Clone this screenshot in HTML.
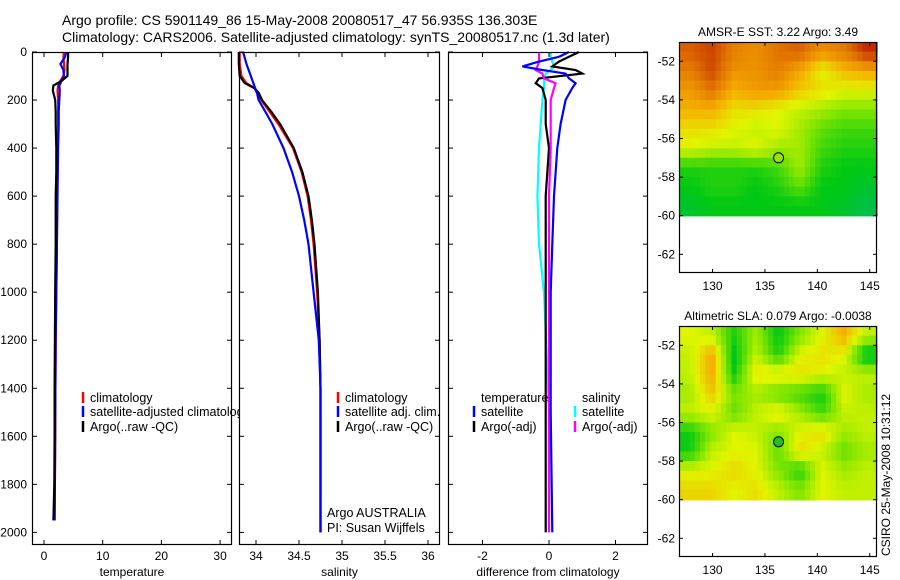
<!DOCTYPE html>
<html><head><meta charset="utf-8">
<style>
html,body{margin:0;padding:0;background:#fff;}
svg{display:block;font-family:"Liberation Sans",sans-serif;}
</style></head>
<body>
<svg id="fig" width="900" height="580" viewBox="0 0 900 580">
<text x="62" y="25" font-size="14">Argo profile: CS 5901149_86 15-May-2008 20080517_47 56.935S 136.303E</text>
<text x="62" y="42" font-size="14">Climatology: CARS2006. Satellite-adjusted climatology: synTS_20080517.nc (1.3d later)</text>
<g id="g1"></g>
<g id="g2"></g>
<g id="g3"></g>
<g id="m1"></g>
<g id="m2"></g>
<text transform="translate(890,556) rotate(-90)" font-size="12">CSIRO 25-May-2008 10:31:12</text>
</svg>
<script>
// ---- data ----
const tDepth=[0,20,50,75,100,120,140,160,200,250,300,400,500,600,800,1000,1200,1400,1600,1800,1950];
const tempClim=[3.4,3.3,3.4,3.5,3.3,2.8,2.4,2.3,2.4,2.4,2.4,2.35,2.3,2.25,2.2,2.1,2.0,1.95,1.9,1.85,1.8];
const tempSat=[3.8,3.6,2.8,3.3,3.4,3.0,2.6,2.7,2.6,2.5,2.5,2.4,2.35,2.3,2.2,2.1,2.0,1.95,1.9,1.85,1.8];
const tempArgo=[4.1,4.1,4.0,4.0,4.0,3.0,1.6,1.5,1.9,2.0,2.0,2.1,2.1,2.0,2.0,1.9,1.85,1.8,1.8,1.75,1.6];
const sDepth=[0,50,100,130,150,170,200,250,300,400,500,600,700,800,1000,1200,1400,1600,2000];
const salClim=[33.81,33.81,33.83,33.89,33.98,34.01,34.06,34.16,34.26,34.43,34.53,34.6,34.64,34.67,34.71,34.74,34.75,34.75,34.75];
const salSat=[33.85,33.89,33.94,33.97,33.99,34.01,34.03,34.11,34.19,34.32,34.42,34.5,34.56,34.61,34.67,34.73,34.75,34.75,34.75];
const salArgo=[33.8,33.8,33.81,33.87,33.98,34.03,34.07,34.18,34.28,34.44,34.54,34.61,34.65,34.68,34.72,34.74,34.75,34.75,34.75];
const dDepth=[0,20,40,60,75,90,110,130,150,200,300,400,600,800,1000,1500,2000];
const tDiffSat=[0.6,0.3,-0.3,-0.8,-0.2,0.5,0.6,0.8,0.7,0.5,0.35,0.25,0.15,0.1,0.05,0.05,0.1];
const tDiffArgo=[0.9,0.6,0.3,0.1,0.8,1.0,-0.3,-0.4,-0.2,-0.1,-0.1,0,-0.1,-0.1,-0.1,-0.1,-0.1];
const sDiffSat=[0.05,0.05,0.1,0.15,0.05,-0.1,-0.15,-0.15,-0.15,-0.2,-0.25,-0.3,-0.35,-0.3,-0.15,0,0];
const sDiffArgo=[-0.3,-0.3,-0.3,-0.35,-0.4,-0.2,-0.15,0.2,0.15,0.05,0.05,0.05,0,0,0,0,0];
const depthTicks=[0,200,400,600,800,1000,1200,1400,1600,1800,2000];
const tempTicks=[0,10,20,30];
const salTicks=[34,34.5,35,35.5,36];
const diffTicks=[-2,0,2];
const latTicks=[-52,-54,-56,-58,-60,-62];
const lonTicks=[130,135,140,145];
const sstGrid=[
[0.88,0.93,0.82,0.78,0.85,0.88,0.78,0.83,0.97],
[0.82,0.92,0.77,0.77,0.82,0.72,0.55,0.67,0.72],
[0.75,0.85,0.7,0.75,0.75,0.65,0.6,0.55,0.55],
[0.7,0.7,0.6,0.6,0.55,0.5,0.45,0.4,0.4],
[0.6,0.6,0.55,0.5,0.55,0.45,0.35,0.3,0.3],
[0.55,0.5,0.5,0.55,0.45,0.45,0.3,0.25,0.25],
[0.25,0.25,0.25,0.25,0.3,0.45,0.25,0.2,0.2],
[0.2,0.25,0.25,0.2,0.25,0.35,0.2,0.2,0.15],
[0.15,0.2,0.2,0.2,0.2,0.2,0.2,0.15,0.1]];
const slaGrid=[
[0.55,0.5,0.25,0.45,0.2,0.4,0.55,0.7,0.5],
[0.5,0.72,0.18,0.5,0.25,0.55,0.6,0.55,0.15],
[0.5,0.72,0.22,0.6,0.6,0.6,0.55,0.5,0.5],
[0.45,0.65,0.4,0.45,0.35,0.3,0.22,0.55,0.45],
[0.5,0.55,0.35,0.5,0.6,0.45,0.3,0.5,0.5],
[0.22,0.4,0.55,0.5,0.4,0.55,0.62,0.45,0.5],
[0.22,0.5,0.55,0.55,0.35,0.62,0.5,0.35,0.45],
[0.55,0.55,0.62,0.55,0.4,0.25,0.55,0.45,0.5],
[0.62,0.62,0.55,0.6,0.5,0.4,0.55,0.5,0.5]];
const floatLon=136.3, floatLat=-57.0;

const NS="http://www.w3.org/2000/svg";
function mk(parent,tag,attrs){const e=document.createElementNS(NS,tag);for(const k in attrs)e.setAttribute(k,attrs[k]);parent.appendChild(e);return e;}
const topY=52,botY=545;
function yD(d){return 52+d*0.2402;}

function panel(g,x0,x1,xs,ticks,fmt,label,ylab){
  const bg=mk(g,'rect',{x:x0,y:topY,width:x1-x0,height:botY-topY,fill:'#fff',stroke:'none'});
  
  
  for(const t of ticks){const x=xs(t);
    const a=mk(g,'line',{x1:x,x2:x,y1:topY,y2:topY+5,stroke:'#000'});
    
    
    const b=mk(g,'line',{x1:x,x2:x,y1:botY,y2:botY-5,stroke:'#000'});
    
    
    const tl=mk(g,'text',{x:x,y:560,'font-size':12,'text-anchor':'middle'});tl.textContent=fmt(t);
    
    }
  for(const d of depthTicks){const y=yD(d);
    const a=mk(g,'line',{x1:x0,x2:x0+5,y1:y,y2:y,stroke:'#000'});
    
    
    const b=mk(g,'line',{x1:x1,x2:x1-5,y1:y,y2:y,stroke:'#000'});
    
    
    if(ylab){const tl=mk(g,'text',{x:x0-5,y:y+4,'font-size':12,'text-anchor':'end'});tl.textContent=d;
      
      }}
  const al=mk(g,'text',{x:(x0+x1)/2,y:576,'font-size':12,'text-anchor':'middle'});al.textContent=label;
  
  
}
function frame(g,x0,x1){const f=mk(g,'rect',{x:x0+0.5,y:topY+0.5,width:x1-x0-1,height:botY-topY-1,fill:'none',stroke:'#000','stroke-width':1.2});
  
  }
function line(g,xs,vals,depths,color,name){
  const pts=vals.map((v,i)=>xs(v).toFixed(1)+','+yD(depths[i]).toFixed(1)).join(' ');
  const p=mk(g,'polyline',{points:pts,fill:'none',stroke:color,'stroke-width':2.2});
  
  }
function legend(g,x,y,color,txt,name){
  if(color){const m=mk(g,'line',{x1:x,x2:x,y1:y-10,y2:y+1,stroke:color,'stroke-width':2.5});
    
    }
  const t=mk(g,'text',{x:x+7,y:y,'font-size':12.5});t.textContent=txt;
  
  }

// temperature
const g1=document.getElementById('g1');
const xT=v=>44+v*5.87;
panel(g1,32,232,xT,tempTicks,String,'temperature',true);
line(g1,xT,tempClim,tDepth,'#f00','temp-climatology-line');
line(g1,xT,tempSat,tDepth,'#00f','temp-satellite-line');
line(g1,xT,tempArgo,tDepth,'#000','temp-argo-line');
legend(g1,83,402,'#f00','climatology','legend-climatology');
legend(g1,83,416,'#00f','satellite-adjusted climatology','legend-satellite');
legend(g1,83,431,'#000','Argo(..raw -QC)','legend-argo');
frame(g1,32,232);

// salinity
const g2=document.getElementById('g2');
const xS=v=>256+(v-34)*86;
panel(g2,239,440,xS,salTicks,String,'salinity',false);
line(g2,xS,salClim,sDepth,'#f00','sal-climatology-line');
line(g2,xS,salArgo,sDepth,'#000','sal-argo-line');
line(g2,xS,salSat,sDepth,'#00f','sal-satellite-line');
legend(g2,338,402,'#f00','climatology','legend-climatology');
legend(g2,338,416,'#00f','satellite adj. clim.','legend-satellite');
legend(g2,338,431,'#000','Argo(..raw -QC)','legend-argo');
legend(g2,320,517,null,'Argo AUSTRALIA','data-source-label');
legend(g2,320,532,null,'PI: Susan Wijffels','pi-label');
frame(g2,239,440);

// differences
const g3=document.getElementById('g3');
const xD=v=>549+v*33.25;
panel(g3,448,648,xD,diffTicks,v=>String(v),'difference from climatology',false);
line(g3,xD,sDiffSat,dDepth,'#0ff','sal-diff-satellite-line');
line(g3,xD,tDiffArgo,dDepth,'#000','temp-diff-argo-line');
line(g3,xD,sDiffArgo,dDepth,'#f0f','sal-diff-argo-line');
line(g3,xD,tDiffSat,dDepth,'#00f','temp-diff-satellite-line');
legend(g3,474,402,null,'temperature','legend-temperature-heading');
legend(g3,474,416,'#00f','satellite','legend-temp-satellite');
legend(g3,474,431,'#000','Argo(-adj)','legend-temp-argo');
legend(g3,575,402,null,'salinity','legend-salinity-heading');
legend(g3,575,416,'#0ff','satellite','legend-sal-satellite');
legend(g3,575,431,'#f0f','Argo(-adj)','legend-sal-argo');
frame(g3,448,648);

// maps
const stops=[[0,[0,185,120]],[0.2,[0,200,20]],[0.4,[130,230,0]],[0.55,[225,245,0]],[0.7,[245,175,0]],[0.85,[225,115,0]],[1,[185,25,0]]];
function col(v){v=Math.max(0,Math.min(1,v));for(let i=1;i<stops.length;i++){if(v<=stops[i][0]){const a=stops[i-1],b=stops[i];const f=(v-a[0])/(b[0]-a[0]);return 'rgb('+a[1].map((c,k)=>Math.round(c+(b[1][k]-c)*f)).join(',')+')';}}return 'rgb(185,25,0)';}
function bil(grid,r,c){const R=grid.length,C=grid[0].length;r=Math.max(0,Math.min(R-1,r));c=Math.max(0,Math.min(C-1,c));
  const r0=Math.floor(r),c0=Math.floor(c),r1=Math.min(R-1,r0+1),c1=Math.min(C-1,c0+1),fr=r-r0,fc=c-c0;
  return grid[r0][c0]*(1-fr)*(1-fc)+grid[r0][c1]*(1-fr)*fc+grid[r1][c0]*fr*(1-fc)+grid[r1][c1]*fr*fc;}
function map(id,y0,title,grid,dotColor){
  const g=document.getElementById(id);
  const x0=679,x1=877,y1=y0+231;
  const lx=lon=>679+(lon-126.8)*10.48;
  const ly=lat=>y0+(-51-lat)*19.3;
  const t=mk(g,'text',{x:778,y:y0-6,'font-size':12,'text-anchor':'middle'});t.textContent=title;
  
  
  const cells=mk(g,'g',{});
  
  
  const C=grid[0].length;
  const step=0.5;
  for(let lat=-51;lat>-60+0.01;lat-=step){for(let lon=126.8;lon<145.7;lon+=step){
    const r=(-51-(lat-step/2))-0.5, c=(lon+step/2-126.8)/(18.9/C)-0.5;
    const x=lx(lon),y=ly(lat);
    const cell=mk(cells,'rect',{x:x.toFixed(1),y:y.toFixed(1),width:(Math.min(step,145.7-lon)*10.48+0.6).toFixed(1),height:(Math.min(step,lat+60)*19.3+0.6).toFixed(1),fill:col(bil(grid,r,c))});
    
    }}
  const f=mk(g,'rect',{x:x0+0.5,y:y0+0.5,width:x1-x0-1,height:y1-y0-1,fill:'none',stroke:'#000','stroke-width':1.2});
  
  
  for(const lat of latTicks){const y=ly(lat);
    const a=mk(g,'line',{x1:x0,x2:x0+4,y1:y,y2:y,stroke:'#000'});
    
    
    const b=mk(g,'line',{x1:x1,x2:x1-4,y1:y,y2:y,stroke:'#000'});
    
    
    const tl=mk(g,'text',{x:x0-4,y:y+4,'font-size':12,'text-anchor':'end'});tl.textContent=String(lat);
    
    }
  for(const lon of lonTicks){const x=lx(lon);
    const a=mk(g,'line',{x1:x,x2:x,y1:y0,y2:y0+4,stroke:'#000'});
    
    
    const b=mk(g,'line',{x1:x,x2:x,y1:y1,y2:y1-4,stroke:'#000'});
    
    
    const tl=mk(g,'text',{x:x,y:y1+17,'font-size':12,'text-anchor':'middle'});tl.textContent=lon;
    
    }
  const dot=mk(g,'circle',{cx:lx(floatLon),cy:ly(floatLat),r:5,fill:dotColor,stroke:'#000','stroke-width':1});
  
  
}
map('m1',42,'AMSR-E SST: 3.22 Argo: 3.49',sstGrid,'#9be000');
map('m2',326,'Altimetric SLA: 0.079 Argo: -0.0038',slaGrid,'#20c020');
</script>
</body></html>
